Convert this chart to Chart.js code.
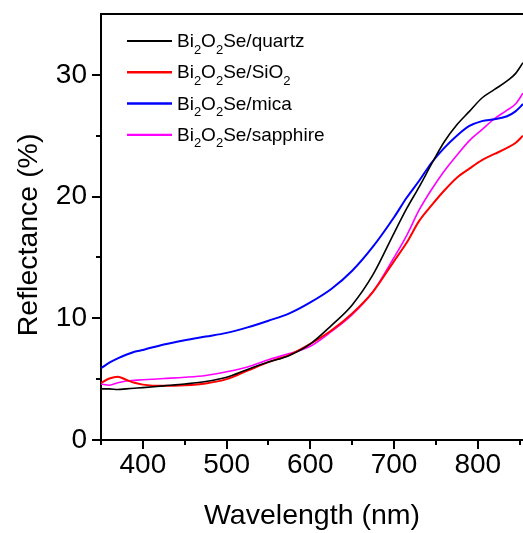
<!DOCTYPE html>
<html>
<head>
<meta charset="utf-8">
<title>Reflectance</title>
<script src="https://cdn.jsdelivr.net/npm/chart.js@4.4.1/dist/chart.umd.min.js"></script>
<style>
  html, body { margin: 0; padding: 0; background: #fff; }
  #wrap { width: 523px; height: 533px; }
</style>
</head>
<body>
<div id="wrap"><canvas id="reflChart" width="523" height="533"></canvas></div>
<script>
// values
const wavelengths = [350, 360, 370, 380, 390, 400, 425, 450, 475, 500, 525, 550, 575, 600, 625, 650, 675, 700, 715, 730, 745, 760, 775, 790, 805, 820, 835, 845, 854];
const quartz   = [4.2, 4.2, 4.15, 4.2, 4.25, 4.3, 4.45, 4.6, 4.8, 5.15, 5.8, 6.4, 6.95, 7.9, 9.4, 11.1, 13.6, 17.0, 19.0, 20.8, 22.7, 24.5, 25.9, 27.0, 28.1, 28.8, 29.5, 30.1, 31.0];
const sio2     = [4.7, 5.05, 5.2, 4.95, 4.7, 4.55, 4.45, 4.5, 4.65, 5.0, 5.7, 6.4, 7.0, 7.9, 9.0, 10.4, 12.2, 14.7, 16.2, 18.0, 19.3, 20.5, 21.55, 22.3, 23.0, 23.5, 24.0, 24.4, 25.0];
const mica     = [5.9, 6.35, 6.7, 7.0, 7.25, 7.4, 7.85, 8.2, 8.5, 8.8, 9.25, 9.8, 10.4, 11.3, 12.4, 13.9, 15.9, 18.3, 19.9, 21.3, 22.8, 24.0, 25.0, 25.8, 26.2, 26.35, 26.6, 27.0, 27.6];
const sapphire = [4.6, 4.5, 4.7, 4.85, 4.9, 4.95, 5.05, 5.15, 5.3, 5.6, 6.0, 6.6, 7.1, 7.7, 8.9, 10.3, 12.2, 15.0, 16.8, 18.9, 20.6, 22.1, 23.4, 24.6, 25.5, 26.4, 27.1, 27.6, 28.5];

const seriesNames = ['Bi₂O₂Se/quartz', 'Bi₂O₂Se/SiO₂', 'Bi₂O₂Se/mica', 'Bi₂O₂Se/sapphire'];
const seriesColors = ['#000000', '#ff0000', '#0000ff', '#ff00ff'];
const seriesWidths = [1.6, 2, 2, 1.6];

const xTickLabels = [400, 500, 600, 700, 800];
const xMinorTicks = [350, 450, 550, 650, 750, 850];
const yTickLabels = [0, 10, 20, 30];
const yMinorTicks = [5, 15, 25];

const fontFamily = '"Liberation Sans", Arial, Helvetica, sans-serif';
Chart.defaults.font.family = fontFamily;
Chart.defaults.color = '#000';

const toPoints = ys => wavelengths.map((w, i) => ({ x: w, y: ys[i] }));

// outward tick marks + top frame line
const frameTicks = {
    id: 'frameTicks',
    afterDraw(chart) {
        const ctx = chart.ctx;
        const area = chart.chartArea;
        const xs = chart.scales.x;
        const ys = chart.scales.y;
        ctx.save();
        ctx.strokeStyle = '#000';
        ctx.lineWidth = 2;
        ctx.beginPath();
        ctx.moveTo(area.left - 1, area.top);
        ctx.lineTo(area.right, area.top);
        xTickLabels.forEach(v => {
            const px = Math.round(xs.getPixelForValue(v));
            ctx.moveTo(px, area.bottom);
            ctx.lineTo(px, area.bottom + 9);
        });
        xMinorTicks.forEach(v => {
            const px = Math.round(xs.getPixelForValue(v));
            ctx.moveTo(px, area.bottom);
            ctx.lineTo(px, area.bottom + 5);
        });
        yTickLabels.forEach(v => {
            const py = Math.round(ys.getPixelForValue(v));
            ctx.moveTo(area.left, py);
            ctx.lineTo(area.left - 9, py);
        });
        yMinorTicks.forEach(v => {
            const py = Math.round(ys.getPixelForValue(v));
            ctx.moveTo(area.left, py);
            ctx.lineTo(area.left - 5, py);
        });
        ctx.stroke();
        ctx.restore();
    }
};

// legend with subscript digits
const subLegend = {
    id: 'subLegend',
    afterDraw(chart) {
        const ctx = chart.ctx;
        const subs = { '₂': '2' };
        ctx.save();
        chart.data.datasets.forEach((ds, i) => {
            const y = 41 + i * 31.3;
            ctx.strokeStyle = ds.borderColor;
            ctx.lineWidth = ds.borderWidth + 0.5;
            ctx.beginPath();
            ctx.moveTo(127, y);
            ctx.lineTo(172, y);
            ctx.stroke();

            let x = 177;
            const base = y + 6;
            ctx.fillStyle = '#000';
            ctx.textBaseline = 'alphabetic';
            for (const ch of ds.label) {
                if (subs[ch]) {
                    ctx.font = '13px ' + fontFamily;
                    ctx.fillText(subs[ch], x, base + 6.5);
                    x += ctx.measureText(subs[ch]).width;
                } else {
                    ctx.font = '19px ' + fontFamily;
                    ctx.fillText(ch, x, base);
                    x += ctx.measureText(ch).width;
                }
            }
        });
        ctx.restore();
    }
};

const ctx = document.getElementById('reflChart').getContext('2d');
new Chart(ctx, {
    type: 'line',
    data: {
        datasets: [quartz, sio2, mica, sapphire].map((ys, i) => ({
            label: seriesNames[i],
            data: toPoints(ys),
            borderColor: seriesColors[i],
            borderWidth: seriesWidths[i],
            pointRadius: 0,
            fill: false,
            cubicInterpolationMode: 'monotone'
        }))
    },
    options: {
        responsive: false,
        animation: false,
        layout: { padding: { top: 14, right: 0, bottom: 0, left: 0 } },
        plugins: {
            legend: { display: false },
            tooltip: { enabled: false }
        },
        scales: {
            x: {
                type: 'linear',
                min: 350,
                max: 854,
                afterBuildTicks: s => { s.ticks = xTickLabels.map(v => ({ value: v })); },
                afterFit: s => { s.height = 93; s.paddingLeft = 0; s.paddingRight = 0; },
                grid: { display: true, drawOnChartArea: false, drawTicks: false },
                border: { display: true, color: '#000', width: 2 },
                ticks: { font: { size: 28 }, padding: 8, maxRotation: 0, autoSkip: false },
                title: {
                    display: true,
                    text: 'Wavelength (nm)',
                    font: { size: 28.5 },
                    padding: { top: 0, bottom: 0 }
                }
            },
            y: {
                type: 'linear',
                min: 0,
                max: 35,
                afterBuildTicks: s => { s.ticks = yTickLabels.map(v => ({ value: v })); },
                afterFit: s => { s.width = 101; s.paddingTop = 0; s.paddingBottom = 0; },
                grid: { display: true, drawOnChartArea: false, drawTicks: false },
                border: { display: true, color: '#000', width: 2 },
                ticks: { font: { size: 28 }, padding: 14 },
                title: {
                    display: true,
                    text: 'Reflectance (%)  ',
                    font: { size: 28.5 },
                    padding: { top: 12, bottom: 0 }
                }
            }
        }
    },
    plugins: [frameTicks, subLegend]
});
</script>
</body>
</html>
